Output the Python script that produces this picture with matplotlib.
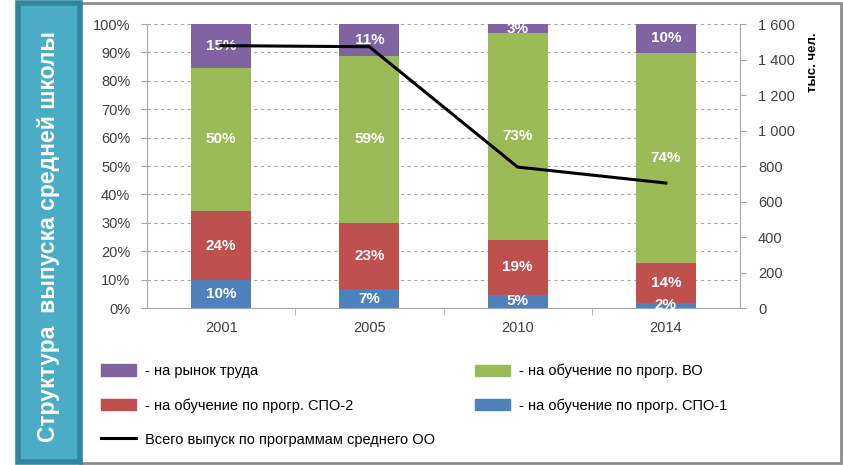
import matplotlib
matplotlib.use("Agg")
import matplotlib.pyplot as plt
import matplotlib.patches as mpatches
from matplotlib.lines import Line2D
from matplotlib.ticker import FuncFormatter, MultipleLocator, FixedLocator

plt.rcParams['font.family'] = ['Liberation Sans', 'DejaVu Sans']

# данные
years = ["2001", "2005", "2010", "2014"]
spo1 = [9.8, 6.6, 4.6, 1.8]        # на обучение по прогр. СПО-1
spo2 = [24.4, 23.3, 19.4, 14.0]    # на обучение по прогр. СПО-2
vo = [50.4, 59.0, 72.8, 74.0]      # на обучение по прогр. ВО
trud = [15.4, 11.1, 3.2, 10.2]     # на рынок труда
total = [1478, 1472, 794, 704]     # всего выпуск, тыс. чел.

series = [
    (spo1, '#4F81BD', '- на обучение по прогр. СПО-1'),
    (spo2, '#C0504D', '- на обучение по прогр. СПО-2'),
    (vo, '#9BBB59', '- на обучение по прогр. ВО'),
    (trud, '#8064A2', '- на рынок труда'),
]
line_label = 'Всего выпуск по программам среднего ОО'

W, H = 843, 465
fig = plt.figure(figsize=(W / 100, H / 100), dpi=100)

# рамка всей диаграммы
fig.add_artist(mpatches.Rectangle((80 / W, 1 - 463 / H), 761 / W, 460 / H,
                                  transform=fig.transFigure, fill=False,
                                  edgecolor='#8C8C8C', linewidth=2))
# синяя плашка слева
fig.add_artist(mpatches.Rectangle((18 / W, 1 - 462 / H), 62 / W, 459 / H,
                                  transform=fig.transFigure, facecolor='#4BACC6',
                                  edgecolor='#31859C', linewidth=4))
fig.text(49 / W, 1 - 237 / H, 'Структура  выпуска средней школы', rotation=90,
         ha='center', va='center', color='white', fontsize=16.5, fontweight='bold')

ax = fig.add_axes([147 / W, 1 - 308 / H, 593 / W, 284 / H])
x = range(len(years))
bottom = [0] * len(years)
gray = '#404040'
for vals, color, label in series:
    ax.bar(x, vals, width=0.405, bottom=bottom, color=color, label=label, zorder=2)
    for i, v in enumerate(vals):
        ax.text(i, bottom[i] + v / 2, f'{round(v)}%', ha='center', va='center',
                color='white', fontsize=11, fontweight='bold', zorder=3)
    bottom = [b + v for b, v in zip(bottom, vals)]

ax.set_xlim(-0.5, len(years) - 0.5)
ax.set_ylim(0, 100)
ax.yaxis.set_major_locator(MultipleLocator(10))
ax.yaxis.set_major_formatter(FuncFormatter(lambda v, p: f'{v:.0f}%'))
ax.grid(axis='y', color='#A6A6A6', linestyle=(0, (3, 3)), linewidth=0.8, zorder=0)
ax.set_axisbelow(True)
ax.set_xticks(list(x))
ax.set_xticklabels(years)
ax.xaxis.set_minor_locator(FixedLocator([0.5, 1.5, 2.5]))
ax.tick_params(axis='x', which='major', length=0, pad=9, labelsize=10.5, labelcolor=gray)
ax.tick_params(axis='x', which='minor', length=5, color='#A6A6A6', direction='out')
ax.tick_params(axis='y', length=4, color='#A6A6A6', pad=8, labelsize=10.5, labelcolor=gray)
for s in ['top', 'right']:
    ax.spines[s].set_visible(False)
for s in ['left', 'bottom']:
    ax.spines[s].set_color('#A6A6A6')

ax2 = ax.twinx()
ax2.plot(x, total, color='black', linewidth=2.2, zorder=4)
ax2.set_ylim(0, 1600)
ax2.yaxis.set_major_locator(MultipleLocator(200))
ax2.yaxis.set_major_formatter(FuncFormatter(lambda v, p: f'{int(v):,}'.replace(',', ' ')))
ax2.tick_params(axis='y', length=4, color='#A6A6A6', pad=9, labelsize=10.5, labelcolor=gray)
for s in ['top', 'left', 'bottom']:
    ax2.spines[s].set_visible(False)
ax2.spines['right'].set_color('#A6A6A6')
fig.text(813 / W, 1 - 62 / H, 'тыс. чел.', rotation=90, ha='center', va='center',
         fontsize=9.5, fontweight='bold', color='black')

# легенда в два столбца
h = {lab: mpatches.Patch(color=c, label=lab) for _, c, lab in series}
line_h = Line2D([], [], color='black', linewidth=2.2, label=line_label)
col1 = [h['- на рынок труда'], h['- на обучение по прогр. СПО-2'], line_h]
col2 = [h['- на обучение по прогр. ВО'], h['- на обучение по прогр. СПО-1']]
for handles, x0 in [(col1, 101), (col2, 475)]:
    fig.legend(handles=handles, loc='upper left', bbox_to_anchor=(x0 / W, 1 - 364 / H),
               frameon=False, fontsize=10.5, borderpad=0, borderaxespad=0,
               handlelength=2.4, handleheight=0.8, handletextpad=0.6,
               labelspacing=1.38, labelcolor='black')

fig.savefig('out.png', dpi=100)
